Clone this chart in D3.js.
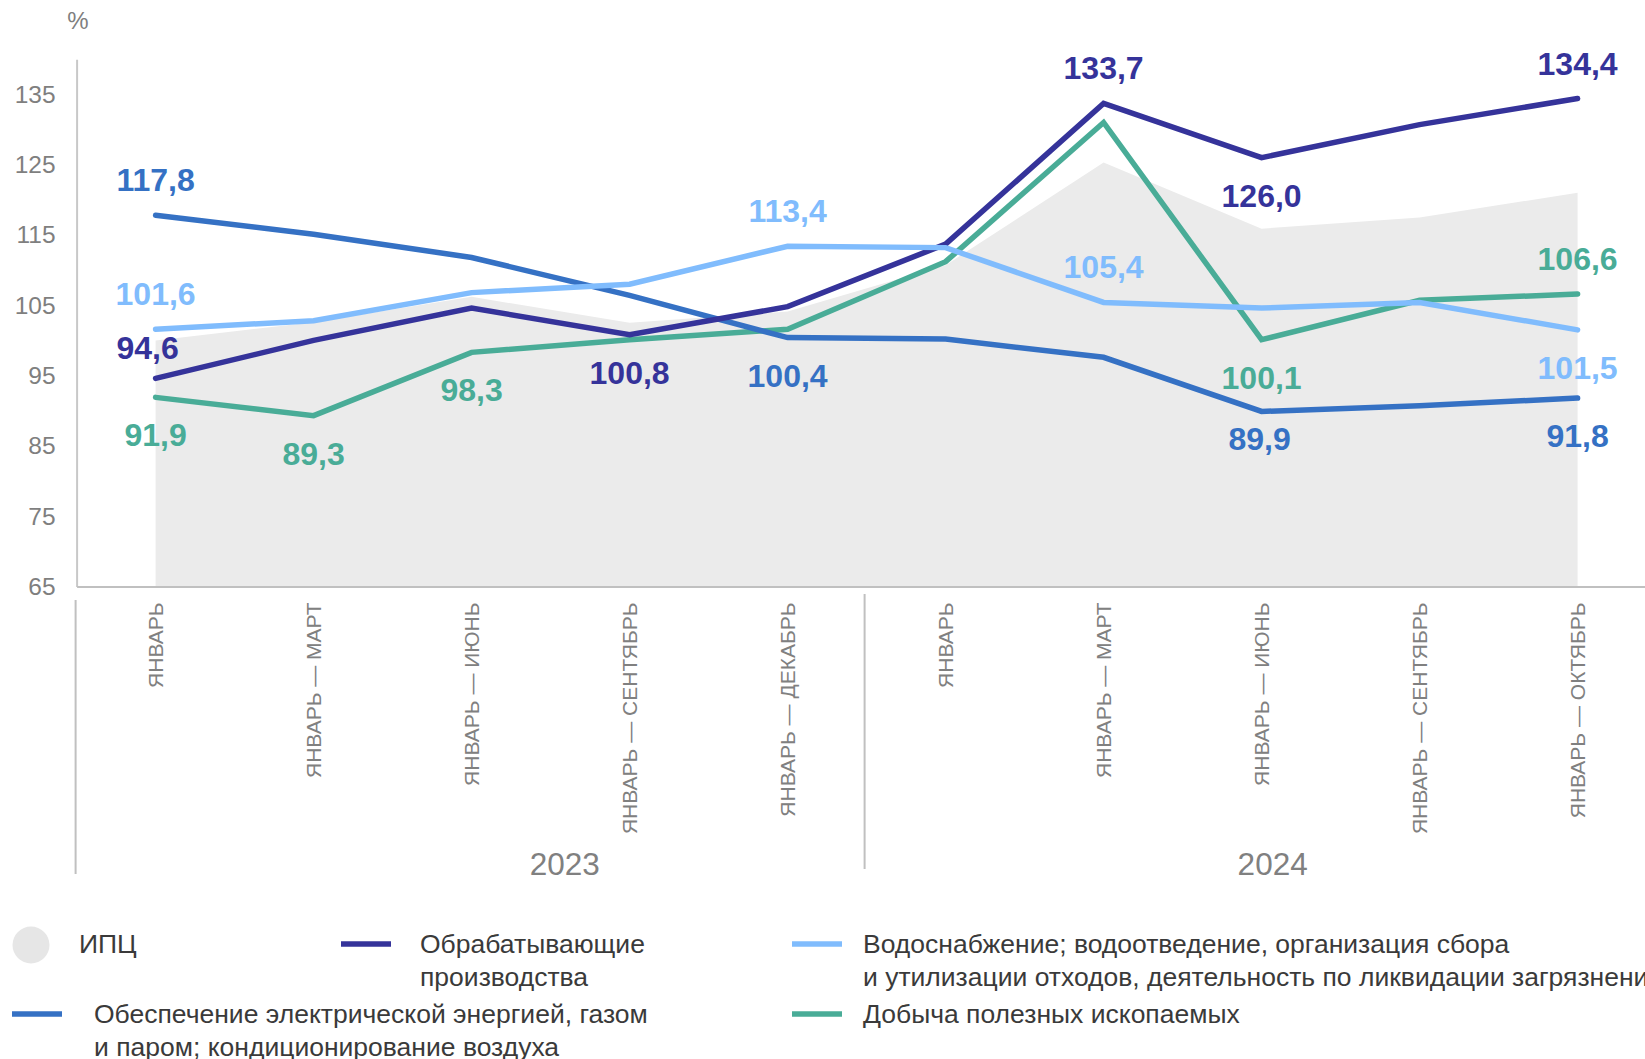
<!DOCTYPE html>
<html>
<head>
<meta charset="utf-8">
<script src="https://cdn.jsdelivr.net/npm/d3@7/dist/d3.min.js"></script>
<style>
  html, body { margin: 0; padding: 0; background: #fff; }
  svg { display: block; font-family: "Liberation Sans", Arial, sans-serif; }
</style>
</head>
<body>
<svg id="chart" width="1645" height="1059"></svg>
<script>
// ---------- DATA ----------
const categories = [
  "ЯНВАРЬ", "ЯНВАРЬ — МАРТ", "ЯНВАРЬ — ИЮНЬ", "ЯНВАРЬ — СЕНТЯБРЬ", "ЯНВАРЬ — ДЕКАБРЬ",
  "ЯНВАРЬ", "ЯНВАРЬ — МАРТ", "ЯНВАРЬ — ИЮНЬ", "ЯНВАРЬ — СЕНТЯБРЬ", "ЯНВАРЬ — ОКТЯБРЬ"
];
const years = ["2023", "2024"];
const yTicks = [65, 75, 85, 95, 105, 115, 125, 135];

const cpi           = [100.0, 102.6, 106.2, 102.5, 104.1, 110.7, 125.3, 115.9, 117.5, 121.0];
const manufacturing = [94.6, 100.0, 104.6, 100.8, 104.8, 113.7, 133.7, 126.0, 130.7, 134.4];
const electricity   = [117.8, 115.1, 111.8, 106.4, 100.4, 100.2, 97.6, 89.9, 90.7, 91.8];
const water         = [101.6, 102.8, 106.8, 108.0, 113.4, 113.2, 105.4, 104.6, 105.4, 101.5];
const mining        = [91.9, 89.3, 98.3, 100.1, 101.6, 111.2, 131.0, 100.1, 105.7, 106.6];

const seriesNames = {
  cpi: "ИПЦ",
  manufacturing: ["Обрабатывающие", "производства"],
  water: ["Водоснабжение; водоотведение, организация сбора", "и утилизации отходов, деятельность по ликвидации загрязнений"],
  electricity: ["Обеспечение электрической энергией, газом", "и паром; кондиционирование воздуха"],
  mining: ["Добыча полезных ископаемых"]
};

// which points get a value label, and on which side
const labelSpecs = [
  { s: "electricity", i: 0, pos: "above" },
  { s: "water", i: 0, pos: "above" },
  { s: "manufacturing", i: 0, pos: "above", dx: -8, dy: 5 },
  { s: "mining", i: 0, pos: "below" },
  { s: "mining", i: 1, pos: "below" },
  { s: "mining", i: 2, pos: "below" },
  { s: "manufacturing", i: 3, pos: "below" },
  { s: "water", i: 4, pos: "above" },
  { s: "electricity", i: 4, pos: "below" },
  { s: "manufacturing", i: 6, pos: "above" },
  { s: "water", i: 6, pos: "above" },
  { s: "manufacturing", i: 7, pos: "below" },
  { s: "mining", i: 7, pos: "below" },
  { s: "electricity", i: 7, pos: "below", dx: -2, dy: -10 },
  { s: "manufacturing", i: 9, pos: "above" },
  { s: "mining", i: 9, pos: "above" },
  { s: "water", i: 9, pos: "below" },
  { s: "electricity", i: 9, pos: "below" }
];

// ---------- STYLE ----------
const colors = {
  cpi: "#ebebeb",
  manufacturing: "#35339a",
  electricity: "#3571c4",
  water: "#80bcfd",
  mining: "#49ac97"
};
const seriesData = { manufacturing, electricity, water, mining };

const svg = d3.select("#chart");

const x = d3.scalePoint()
  .domain(d3.range(categories.length))
  .range([76.6, 1656.6])
  .padding(0.5);
const step = x.step();
const xAt = f => x(0) + f * step;

const y = d3.scaleLinear().domain([65, 140]).range([586.5, 59.2]);

// CPI area
const area = d3.area()
  .x((d, i) => x(i))
  .y0(y(65))
  .y1(d => y(d));
svg.append("path")
  .datum(cpi)
  .attr("d", area)
  .attr("fill", colors.cpi);

// Y axis
const yAxis = svg.append("g")
  .attr("transform", `translate(${x.range()[0]},0)`)
  .call(d3.axisLeft(y).tickValues(yTicks).tickSize(0).tickPadding(21));
yAxis.select(".domain").attr("stroke", "#c8c8c8").attr("stroke-width", 2);
yAxis.selectAll("text")
  .attr("fill", "#7f7f7f")
  .style("font-size", "24.5px")
  .style("font-family", "'Liberation Sans', Arial, sans-serif");

svg.append("text")
  .attr("x", 78).attr("y", 29)
  .attr("text-anchor", "middle")
  .attr("fill", "#7f7f7f")
  .style("font-size", "24px")
  .text("%");

// X axis
const xAxis = svg.append("g")
  .attr("transform", `translate(0,${y(65)})`)
  .call(d3.axisBottom(x).tickSize(0).tickFormat(i => categories[i]));
xAxis.select(".domain").attr("stroke", "#c0c0c0").attr("stroke-width", 2);
xAxis.selectAll("text")
  .attr("fill", "#808080")
  .style("font-size", "21px")
  .style("font-family", "'Liberation Sans', Arial, sans-serif")
  .attr("text-anchor", "end")
  .attr("y", 0)
  .attr("dy", "0.35em")
  .attr("transform", "translate(0,16) rotate(-90)");

// separators
const sepX = [x.range()[0] - 1, x(4) + step / 2 - 2];
const sepY = [[600, 874], [594, 869]];
sepX.forEach((sx, k) => {
  svg.append("line")
    .attr("x1", sx).attr("x2", sx)
    .attr("y1", sepY[k][0]).attr("y2", sepY[k][1])
    .attr("stroke", "#c0c0c0").attr("stroke-width", 2);
});

// year labels
const yearPos = [2.59, 7.07];
years.forEach((yr, k) => {
  svg.append("text")
    .attr("x", xAt(yearPos[k]))
    .attr("y", 875)
    .attr("text-anchor", "middle")
    .attr("fill", "#808080")
    .style("font-size", "31.5px")
    .text(yr);
});

// lines
const line = d3.line().x((d, i) => x(i)).y(d => y(d));
["mining", "electricity", "manufacturing", "water"].forEach(k => {
  svg.append("path")
    .datum(seriesData[k])
    .attr("d", line)
    .attr("fill", "none")
    .attr("stroke", colors[k])
    .attr("stroke-width", 5.5)
    .attr("stroke-linejoin", "miter")
    .attr("stroke-linecap", "round");
});

// value labels
const fmt = v => d3.format(".1f")(v).replace(".", ",");
svg.append("g").selectAll("text")
  .data(labelSpecs)
  .join("text")
  .attr("x", d => x(d.i) + (d.dx || 0))
  .attr("y", d => {
    const py = y(seriesData[d.s][d.i]);
    return (d.pos === "above" ? py - 24 : py + 49) + (d.dy || 0);
  })
  .attr("text-anchor", "middle")
  .attr("fill", d => colors[d.s])
  .style("font-size", "32px")
  .style("font-weight", "bold")
  .text(d => fmt(seriesData[d.s][d.i]));

// legend
const lg = svg.append("g").style("font-size", "26.5px").attr("fill", "#3a3a3a");
lg.append("circle").attr("cx", 31).attr("cy", 945).attr("r", 18.5).attr("fill", "#e6e6e6");
lg.append("text").attr("x", 79).attr("y", 953).text(seriesNames.cpi);

const legendItems = [
  { k: "manufacturing", sx: 341, tx: 420, y: 944 },
  { k: "water", sx: 792, tx: 863, y: 944 },
  { k: "electricity", sx: 12, tx: 94, y: 1014 },
  { k: "mining", sx: 792, tx: 863, y: 1014 }
];
legendItems.forEach(it => {
  lg.append("line")
    .attr("x1", it.sx).attr("x2", it.sx + 50)
    .attr("y1", it.y).attr("y2", it.y)
    .attr("stroke", colors[it.k]).attr("stroke-width", 5.5);
  seriesNames[it.k].forEach((t, j) => {
    lg.append("text")
      .attr("x", it.tx)
      .attr("y", it.y + 9 + j * 32.5)
      .text(t);
  });
});
</script>
</body>
</html>
